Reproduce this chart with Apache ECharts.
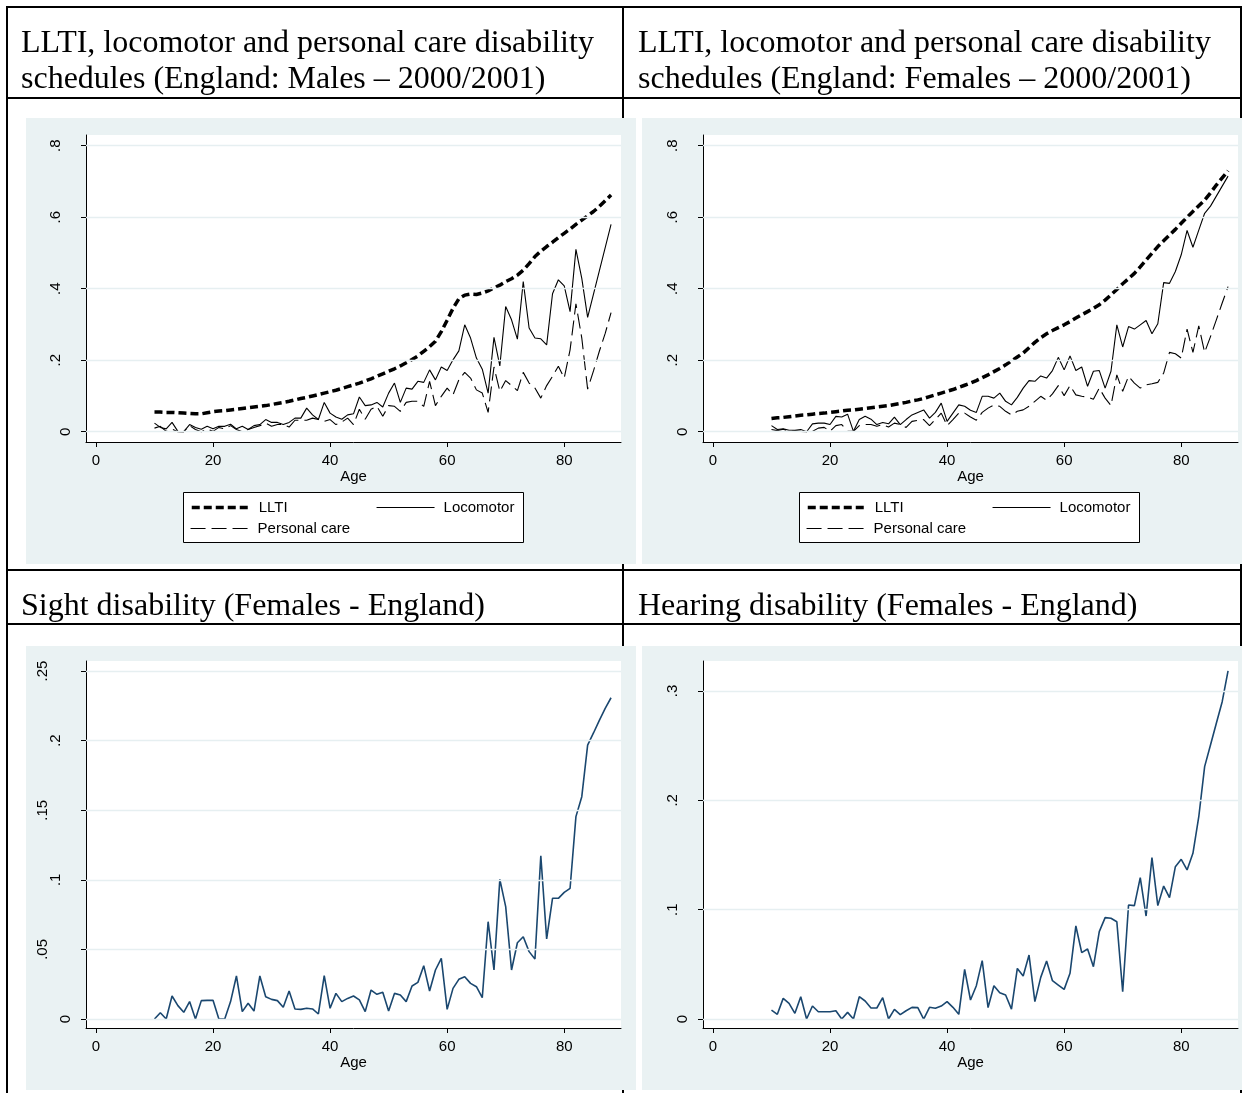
<!DOCTYPE html>
<html>
<head>
<meta charset="utf-8">
<title>Disability schedules</title>
<script src="https://cdn.jsdelivr.net/npm/echarts@6.0.0/dist/echarts.min.js"></script>
<style>
html, body { margin: 0; padding: 0; background: #fff; }
#main { width: 1242px; height: 1093px; }
</style>
</head>
<body>
<div id="main"></div>
<script>
var ages = [10,11,12,13,14,15,16,17,18,19,20,21,22,23,24,25,26,27,28,29,
  30,31,32,33,34,35,36,37,38,39,40,41,42,43,44,45,46,47,48,49,
  50,51,52,53,54,55,56,57,58,59,60,61,62,63,64,65,66,67,68,69,
  70,71,72,73,74,75,76,77,78,79,80,81,82,83,84,85,86,87,88];

// males, England 2000/2001
var maleLLTI = [.055,.055,.054,.054,.053,.052,.051,.050,.050,.053,
  .056,.058,.059,.061,.063,.065,.067,.069,.071,.073,
  .076,.079,.082,.085,.089,.093,.096,.100,.104,.108,
  .112,.116,.121,.126,.131,.136,.142,.148,.155,.162,
  .169,.176,.184,.193,.202,.212,.225,.238,.253,.280,
  .312,.345,.372,.382,.385,.384,.388,.394,.402,.410,
  .420,.428,.438,.452,.470,.490,.505,.518,.530,.543,
  .555,.567,.580,.592,.604,.616,.630,.646,.662];
var maleLoco = [.024,.012,.008,.026,.001,.000,.020,.012,.007,.015,
  .008,.015,.015,.021,.008,.015,.006,.017,.020,.034,
  .026,.026,.020,.026,.038,.038,.066,.047,.034,.082,
  .052,.041,.035,.047,.050,.097,.073,.075,.082,.069,
  .108,.136,.082,.122,.119,.141,.138,.173,.145,.181,
  .171,.201,.226,.299,.262,.206,.175,.108,.264,.184,
  .350,.313,.259,.420,.290,.262,.260,.243,.386,.425,
  .408,.336,.510,.429,.320,.385,.450,.515,.580];
var malePC = [.010,.015,.001,.007,.000,.000,.017,.006,.000,.007,
  .001,.012,.008,.017,.006,.000,.006,.012,.017,.024,
  .015,.020,.020,.013,.032,.032,.032,.038,.034,.029,
  .034,.020,.027,.038,.020,.063,.035,.063,.071,.043,
  .073,.071,.057,.082,.085,.085,.071,.141,.073,.099,
  .122,.103,.145,.166,.150,.117,.108,.054,.181,.113,
  .143,.129,.115,.166,.136,.122,.094,.129,.155,.183,
  .150,.229,.358,.262,.119,.170,.225,.275,.333];

// females, England 2000/2001
var femLLTI = [.037,.039,.040,.042,.044,.046,.047,.049,.051,.052,
  .054,.056,.058,.060,.061,.063,.065,.067,.069,.071,
  .073,.076,.079,.082,.086,.089,.093,.098,.103,.108,
  .113,.118,.124,.130,.136,.143,.151,.159,.168,.177,
  .187,.198,.209,.220,.235,.250,.263,.274,.283,.291,
  .299,.308,.318,.327,.336,.345,.355,.368,.383,.398,
  .414,.428,.443,.461,.480,.499,.518,.534,.550,.566,
  .583,.600,.616,.632,.648,.668,.690,.710,.730];
var femLoco = [.017,.006,.008,.004,.004,.006,.000,.022,.024,.024,
  .020,.043,.041,.049,.001,.034,.043,.035,.020,.026,
  .022,.041,.020,.034,.047,.054,.061,.038,.054,.080,
  .029,.052,.075,.071,.060,.054,.099,.099,.094,.108,
  .085,.075,.096,.122,.143,.141,.156,.150,.171,.208,
  .173,.212,.171,.181,.127,.169,.171,.122,.169,.299,
  .237,.294,.287,.299,.311,.274,.302,.417,.415,.448,
  .495,.563,.516,.564,.611,.631,.659,.687,.715];
var femPC = [.006,.003,.007,.001,.003,.001,.000,.001,.010,.012,
  .001,.017,.020,.001,.001,.017,.020,.020,.015,.020,
  .013,.024,.020,.012,.029,.032,.034,.017,.034,.052,
  .017,.034,.052,.052,.041,.032,.054,.066,.075,.071,
  .057,.047,.057,.061,.071,.085,.099,.088,.106,.129,
  .101,.129,.103,.099,.097,.091,.122,.094,.073,.159,
  .113,.155,.136,.122,.131,.134,.138,.164,.222,.218,
  .206,.287,.222,.296,.222,.266,.313,.360,.406];

var femSight = [.000,.0045,.000,.0165,.0096,.0048,.0125,.000,.0132,.0134,
  .0134,.000,.000,.0125,.0309,.0053,.0113,.0057,.0309,.016,
  .0141,.0132,.0084,.0201,.0072,.0069,.0077,.0072,.0036,.0311,
  .0077,.0184,.0125,.0148,.0165,.0137,.0053,.0208,.0177,.0192,
  .0057,.0184,.0172,.0125,.0237,.0263,.0383,.0201,.0352,.0436,
  .0069,.022,.0285,.0304,.0256,.0232,.0153,.0699,.0352,.1003,
  .0807,.0352,.0548,.0591,.0484,.0431,.1173,.0575,.0867,.0867,
  .091,.0939,.1454,.1597,.1968,.2055,.2146,.2232,.2308];
var femHearing = [.0082,.0043,.0189,.0143,.0052,.0204,.000,.0119,.0067,.0067,
  .0067,.0076,.000,.0061,.000,.0204,.0165,.0101,.0101,.0195,
  .000,.0088,.004,.0076,.0107,.0104,.000,.0107,.0098,.0119,
  .0159,.0107,.0043,.0454,.0174,.0305,.0534,.0104,.0305,.0241,
  .022,.0091,.0463,.0393,.0585,.0159,.0381,.053,.0351,.0311,
  .0271,.0418,.0851,.0607,.064,.0479,.0799,.0927,.0921,.089,
  .025,.1043,.1037,.1293,.0942,.1476,.1037,.1216,.111,.1393,
  .146,.1363,.1515,.185,.2308,.2506,.2704,.2902,.3183];

var xTicks = [0, 20, 40, 60, 80];
var topYTicks = [0, .2, .4, .6, .8];
var sightYTicks = [0, .05, .1, .15, .2, .25];
var hearingYTicks = [0, .1, .2, .3];

var titleMales = 'LLTI, locomotor and personal care disability\nschedules (England: Males \u2013 2000/2001)';
var titleFemales = 'LLTI, locomotor and personal care disability\nschedules (England: Females \u2013 2000/2001)';
var titleSight = 'Sight disability (Females - England)';
var titleHearing = 'Hearing disability (Females - England)';

var SANS = '"Liberation Sans", Arial, sans-serif';
var SERIF = '"Liberation Serif", "Times New Roman", serif';
var BG = '#eaf2f3';
var GRIDC = '#e6eff1';
var NAVY = '#1a476f';

var chart = echarts.init(document.getElementById('main'));

function pairs(vals) {
  return ages.map(function (a, i) { return [a, vals[i]]; });
}

// stata style: .2 rather than 0.2
function yFmt(v) {
  if (v === 0) return '0';
  return String(+v.toFixed(2)).replace(/^0\./, '.');
}

function xAxisOpt(idx) {
  return {
    gridIndex: idx, type: 'value', min: -1.7, max: 89.7,
    name: 'Age', nameLocation: 'middle', nameGap: 25,
    nameTextStyle: { fontFamily: SANS, fontSize: 15, color: '#000' },
    axisLine: { show: true, onZero: false, lineStyle: { color: '#000', width: 1 } },
    axisTick: { show: true, length: 5, customValues: xTicks, lineStyle: { color: '#000' } },
    axisLabel: { customValues: xTicks, margin: 11, fontFamily: SANS, fontSize: 15, color: '#000' },
    splitLine: { show: false }
  };
}

function yAxisOpt(idx, min, max, ticks) {
  return {
    gridIndex: idx, type: 'value', min: min, max: max,
    axisLine: { show: true, onZero: false, lineStyle: { color: '#000', width: 1 } },
    axisTick: { show: true, length: 5, customValues: ticks, lineStyle: { color: '#000' } },
    axisLabel: {
      customValues: ticks, rotate: 90, margin: 13,
      fontFamily: SANS, fontSize: 15, color: '#000',
      formatter: function (v) { var t = yFmt(v); return '{p' + t.length + '|' + t + '}'; },
      rich: {
        p1: { fontFamily: SANS, fontSize: 15, color: '#000', padding: [0, 0, 0, 0] },
        p2: { fontFamily: SANS, fontSize: 15, color: '#000', padding: [0, 0, 10, 0] },
        p3: { fontFamily: SANS, fontSize: 15, color: '#000', padding: [0, 0, 23, 0] }
      }
    },
    splitLine: { show: false }
  };
}

function gridLines(ticks) {
  return {
    silent: true, symbol: 'none', animation: false,
    label: { show: false },
    lineStyle: { color: GRIDC, width: 1.3, type: 'solid' },
    data: ticks.map(function (v) { return { yAxis: v }; })
  };
}

function lineSeries(name, vals, idx, color, width, dash) {
  return {
    name: name, type: 'line', xAxisIndex: idx, yAxisIndex: idx,
    data: pairs(vals), symbol: 'none', showSymbol: false, silent: true,
    animation: false, color: color,
    lineStyle: { color: color, width: width, type: dash, cap: 'butt' }
  };
}

var llti = [8, 4];
var pcDash = [15, 6];

var series = [];
var s;
s = lineSeries('LLTI', maleLLTI, 0, '#000', 3.5, llti); s.markLine = gridLines(topYTicks); series.push(s);
series.push(lineSeries('Locomotor', maleLoco, 0, '#000', 1.1, 'solid'));
series.push(lineSeries('Personal care', malePC, 0, '#000', 1.1, pcDash));
s = lineSeries('LLTI', femLLTI, 1, '#000', 3.5, llti); s.markLine = gridLines(topYTicks); series.push(s);
series.push(lineSeries('Locomotor', femLoco, 1, '#000', 1.1, 'solid'));
series.push(lineSeries('Personal care', femPC, 1, '#000', 1.1, pcDash));
s = lineSeries('Sight', femSight, 2, NAVY, 1.6, 'solid'); s.markLine = gridLines(sightYTicks); series.push(s);
s = lineSeries('Hearing', femHearing, 3, NAVY, 1.6, 'solid'); s.markLine = gridLines(hearingYTicks); series.push(s);

function legendOpt(name, left, top) {
  return {
    data: [name], left: left, top: top, padding: 0,
    itemWidth: 58, itemHeight: 14, selectedMode: false,
    lineStyle: { width: 'inherit' },
    // hide the marker that echarts puts in the middle of a line icon
    itemStyle: { color: 'rgba(0,0,0,0)', borderWidth: 0, opacity: 0 },
    textStyle: { fontFamily: SANS, fontSize: 15, color: '#000', padding: [0, 0, 0, 4] }
  };
}

function hline(y) {
  return { type: 'line', z: -20, shape: { x1: 7, y1: y, x2: 1241, y2: y }, style: { stroke: '#000', lineWidth: 2 } };
}
function vline(x) {
  return { type: 'line', z: -20, shape: { x1: x, y1: 6, x2: x, y2: 1093 }, style: { stroke: '#000', lineWidth: 2 } };
}
function panel(x, y, w, h) {
  return { type: 'rect', z: -10, shape: { x: x, y: y, width: w, height: h }, style: { fill: BG } };
}
function legendBox(x) {
  return { type: 'rect', z: -5, shape: { x: x + 0.5, y: 492.5, width: 340, height: 50 }, style: { fill: '#fff', stroke: '#000', lineWidth: 1 } };
}
function title(text, x, y) {
  return {
    type: 'text', x: x, y: y, z: 5,
    style: { text: text, fontFamily: SERIF, fontSize: 32, lineHeight: 36, fill: '#000', verticalAlign: 'top' }
  };
}

var option = {
  backgroundColor: '#fff',
  animation: false,
  grid: [
    { left: 86, top: 135, width: 535, height: 307, show: true, backgroundColor: '#fff', borderWidth: 0 },
    { left: 703, top: 135, width: 535, height: 307, show: true, backgroundColor: '#fff', borderWidth: 0 },
    { left: 86, top: 661, width: 535, height: 367, show: true, backgroundColor: '#fff', borderWidth: 0 },
    { left: 703, top: 661, width: 535, height: 367, show: true, backgroundColor: '#fff', borderWidth: 0 }
  ],
  xAxis: [xAxisOpt(0), xAxisOpt(1), xAxisOpt(2), xAxisOpt(3)],
  yAxis: [
    yAxisOpt(0, -0.0288, 0.830, topYTicks),
    yAxisOpt(1, -0.0288, 0.830, topYTicks),
    yAxisOpt(2, -0.00647, 0.2572, sightYTicks),
    yAxisOpt(3, -0.0082, 0.3274, hearingYTicks)
  ],
  legend: [
    legendOpt('LLTI', 190, 500),
    legendOpt('Locomotor', 376, 500),
    legendOpt('Personal care', 190, 521),
    legendOpt('LLTI', 806, 500),
    legendOpt('Locomotor', 992, 500),
    legendOpt('Personal care', 806, 521)
  ],
  graphic: [
    hline(7), hline(98), hline(570), hline(624),
    vline(7), vline(623), vline(1241),
    panel(26, 118, 610, 446), panel(642, 118, 600, 446),
    panel(26, 646, 610, 444), panel(642, 646, 600, 444),
    legendBox(183), legendBox(799),
    title(titleMales, 21, 26), title(titleFemales, 638, 26),
    title(titleSight, 21, 589), title(titleHearing, 638, 589)
  ],
  series: series
};

chart.setOption(option);
</script>
</body>
</html>
